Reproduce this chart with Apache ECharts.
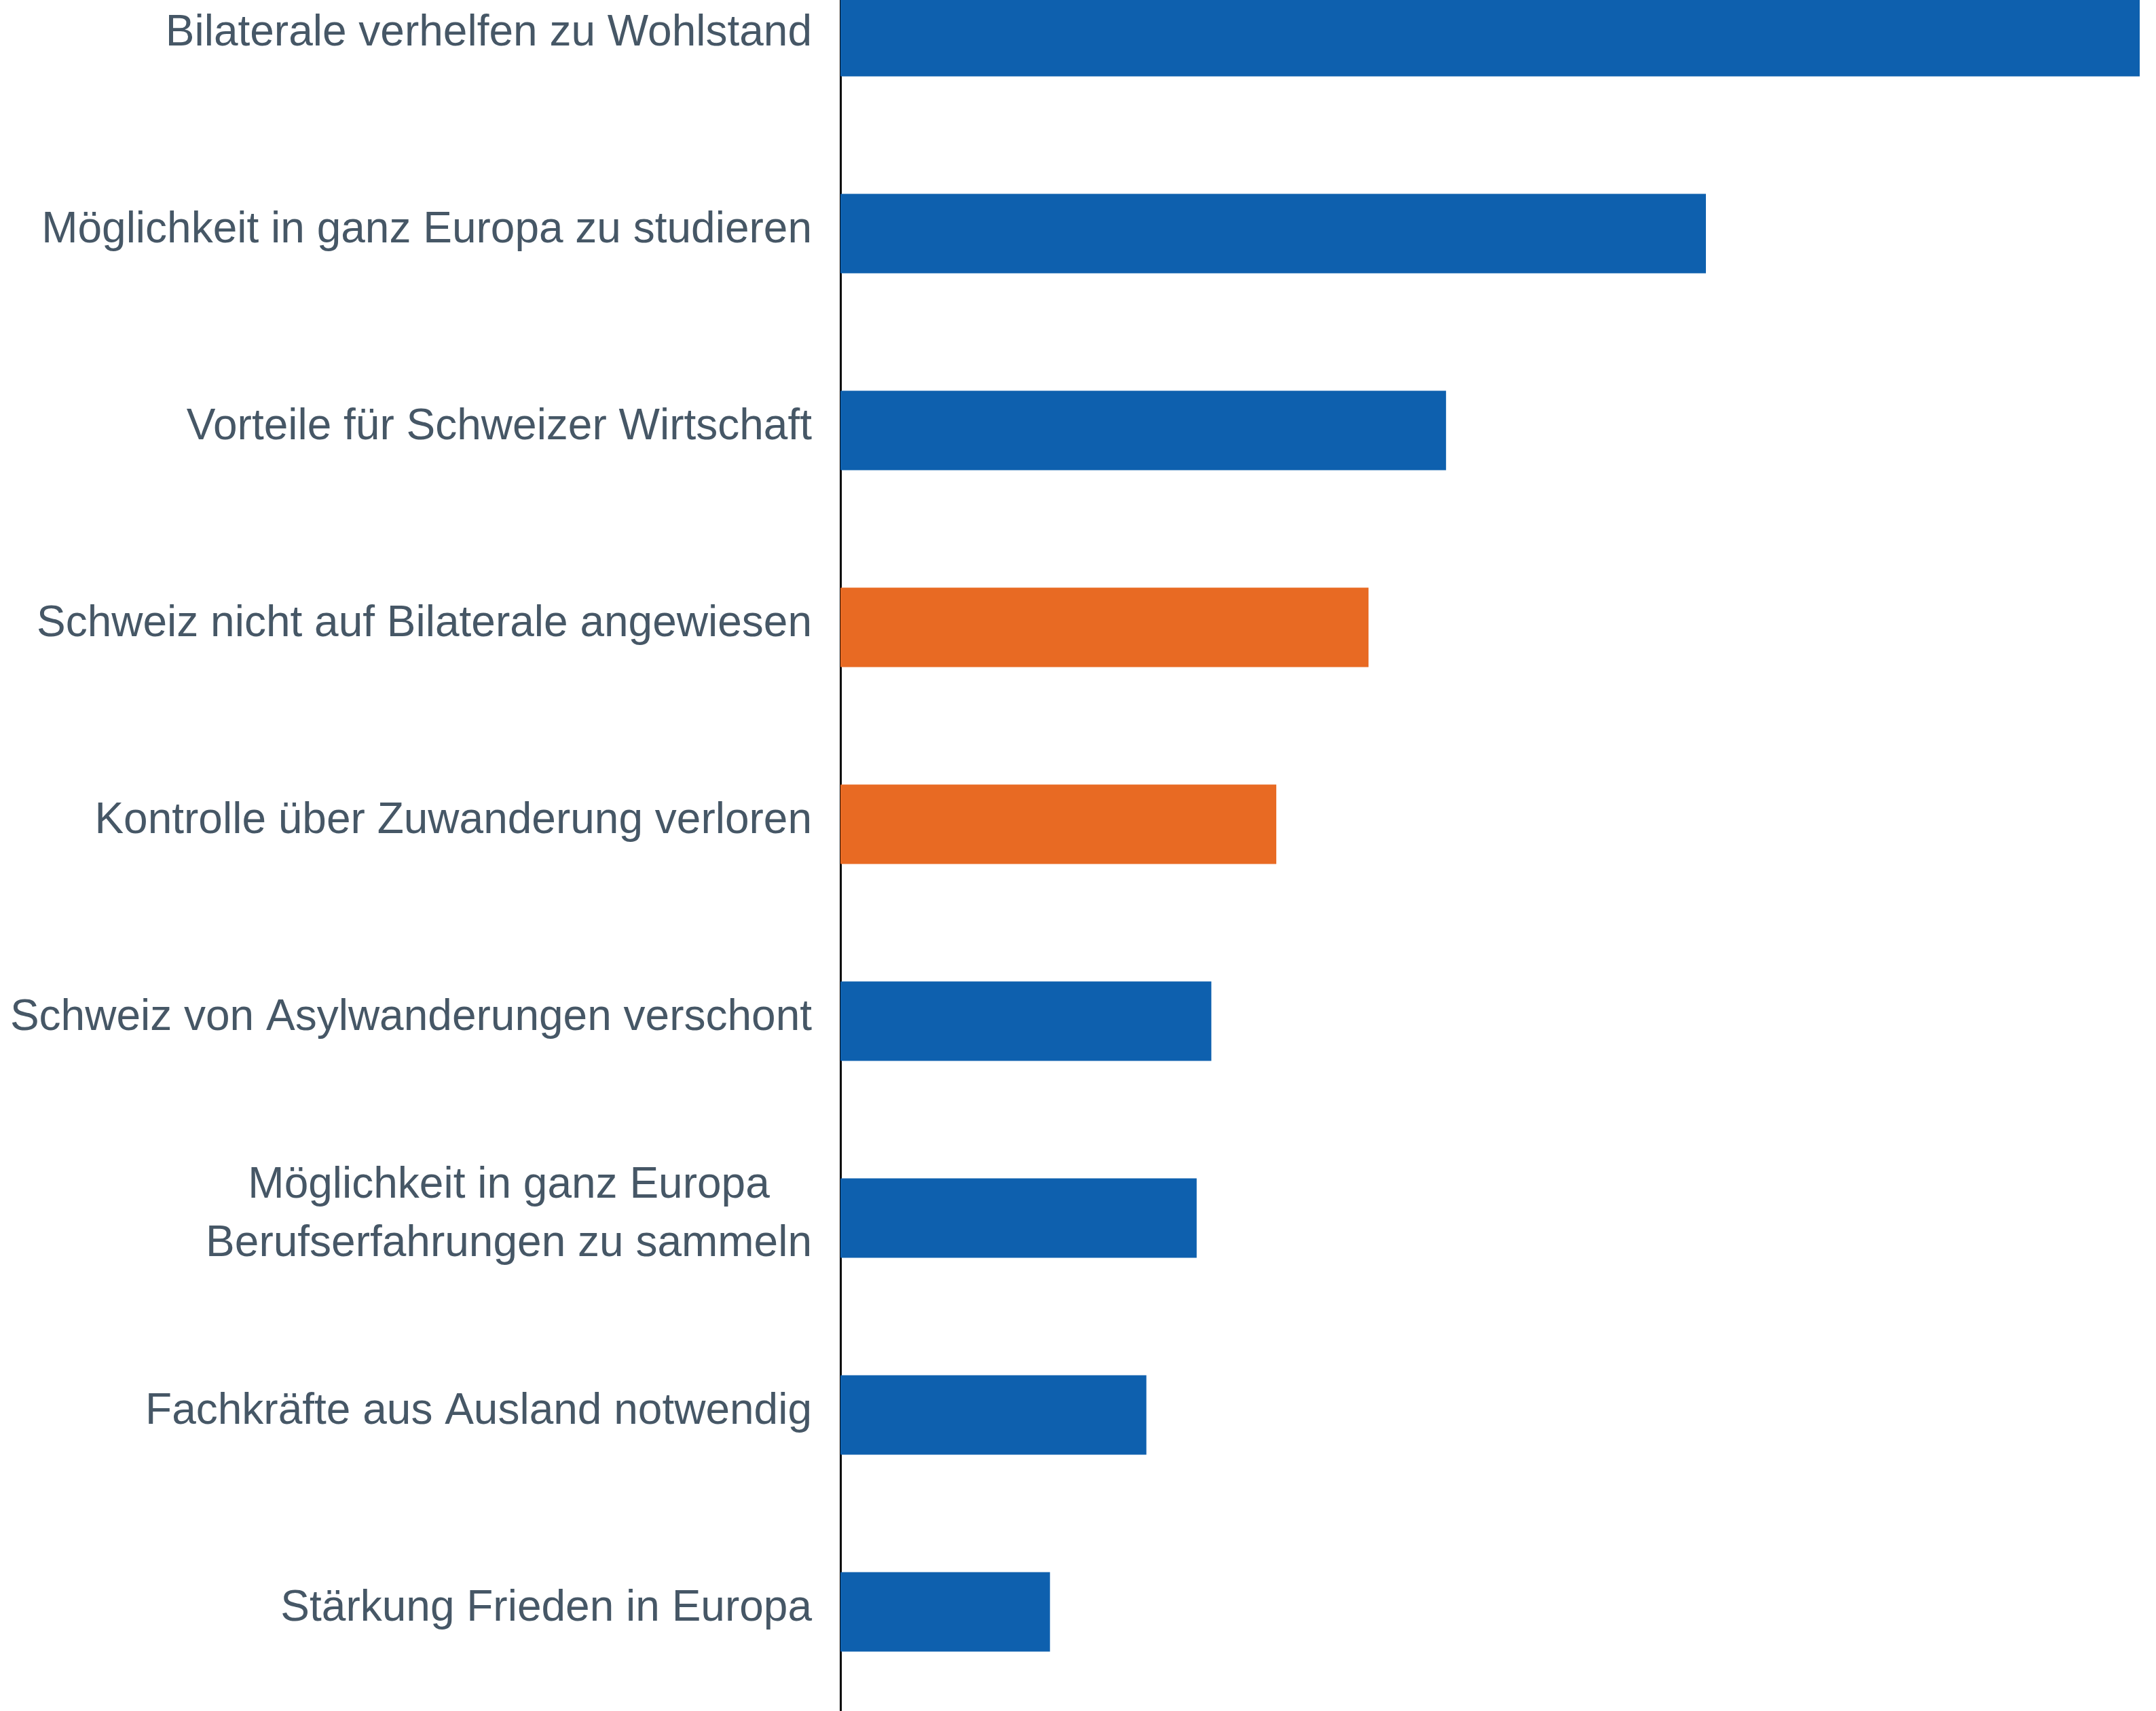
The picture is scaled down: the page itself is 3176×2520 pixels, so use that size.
<!DOCTYPE html>
<html>
<head>
<meta charset="utf-8">
<script src="https://cdn.jsdelivr.net/npm/echarts@6/dist/echarts.min.js"></script>
<style>
  html, body { margin: 0; padding: 0; background: #fff; }
  #chart { width: 3176px; height: 2520px; }
</style>
</head>
<body>
<div id="chart"></div>
<script>
// arguments, top to bottom
const categories = [
  'Bilaterale verhelfen zu Wohlstand',
  'Möglichkeit in ganz Europa zu studieren',
  'Vorteile für Schweizer Wirtschaft',
  'Schweiz nicht auf Bilaterale angewiesen',
  'Kontrolle über Zuwanderung verloren',
  'Schweiz von Asylwanderungen verschont',
  'Möglichkeit in ganz Europa\nBerufserfahrungen zu sammeln',
  'Fachkräfte aus Ausland notwendig',
  'Stärkung Frieden in Europa'
]
const values = [62, 41.3, 28.9, 25.2, 20.8, 17.7, 17, 14.6, 10]
// 'pro' = for the bilaterals, 'contra' = against
const side = ['pro', 'pro', 'pro', 'contra', 'contra', 'pro', 'pro', 'pro', 'pro']

const colors = { pro: '#0e60ae', contra: '#e86a23' }
const labelStyle = {
  fontFamily: 'Liberation Sans, Arial, sans-serif',
  fontSize: 64,
  color: '#465766',
  lineHeight: 86,
  align: 'center'
}

const myChart = echarts.init(document.getElementById('chart'))

const option = {
  backgroundColor: '#fff',
  animation: false,
  grid: {
    left: 1238,
    right: 24,
    top: -91,
    bottom: 1,
    containLabel: false,
    outerBoundsMode: 'none'
  },
  xAxis: {
    type: 'value',
    min: 0,
    max: 62,
    show: false
  },
  yAxis: {
    type: 'category',
    inverse: true,
    data: categories,
    offset: 3,
    axisLine: { show: true, lineStyle: { color: '#000', width: 3 } },
    axisTick: { show: false },
    splitLine: { show: false },
    axisLabel: {
      margin: 39,
      align: 'right',
      padding: [0, 0, 10, 0],
      formatter: (v) => v.split('\n').map(s => '{c|' + s + '}').join('\n'),
      rich: { c: labelStyle }
    }
  },
  series: [
    {
      type: 'bar',
      barWidth: 117,
      data: values.map((v, i) => ({
        value: v,
        itemStyle: { color: colors[side[i]] }
      }))
    }
  ]
}

myChart.setOption(option)
window.addEventListener('resize', () => myChart.resize())
</script>
</body>
</html>
